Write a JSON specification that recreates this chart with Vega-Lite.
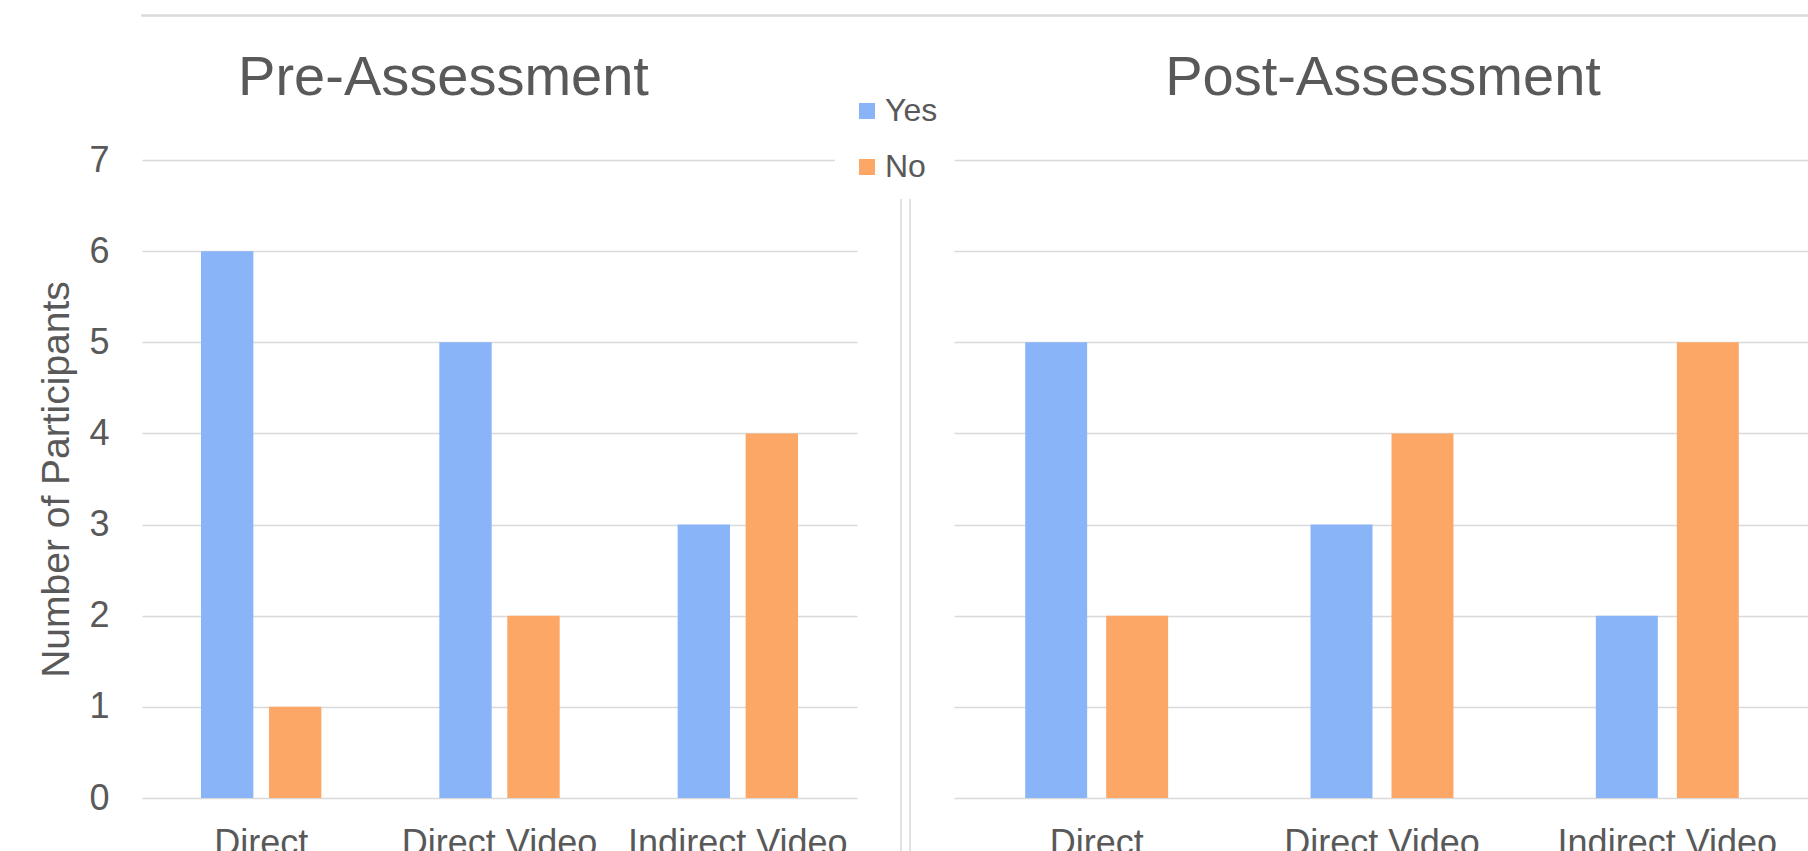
{
  "$schema": "https://vega.github.io/schema/vega-lite/v6.json",
  "background": "white",
  "padding": {"left": 37, "top": 14, "right": 0, "bottom": 0},
  "config": {
    "font": "Liberation Sans",
    "view": {"stroke": null},
    "axis": {
      "labelColor": "#595959",
      "titleColor": "#595959",
      "labelFont": "Liberation Sans",
      "titleFont": "Liberation Sans",
      "domain": false,
      "ticks": false,
      "gridColor": "#d9d9d9",
      "gridWidth": 1.5
    },
    "title": {
      "color": "#595959",
      "fontSize": 56,
      "fontWeight": "normal",
      "font": "Liberation Sans",
      "frame": "group",
      "baseline": "alphabetic"
    }
  },
  "datasets": {
    "survey": [
      {"phase": "Pre-Assessment", "condition": "Direct", "response": "Yes", "participants": 6},
      {"phase": "Pre-Assessment", "condition": "Direct", "response": "No", "participants": 1},
      {"phase": "Pre-Assessment", "condition": "Direct Video", "response": "Yes", "participants": 5},
      {"phase": "Pre-Assessment", "condition": "Direct Video", "response": "No", "participants": 2},
      {"phase": "Pre-Assessment", "condition": "Indirect Video", "response": "Yes", "participants": 3},
      {"phase": "Pre-Assessment", "condition": "Indirect Video", "response": "No", "participants": 4},
      {"phase": "Post-Assessment", "condition": "Direct", "response": "Yes", "participants": 5},
      {"phase": "Post-Assessment", "condition": "Direct", "response": "No", "participants": 2},
      {"phase": "Post-Assessment", "condition": "Direct Video", "response": "Yes", "participants": 3},
      {"phase": "Post-Assessment", "condition": "Direct Video", "response": "No", "participants": 4},
      {"phase": "Post-Assessment", "condition": "Indirect Video", "response": "Yes", "participants": 2},
      {"phase": "Post-Assessment", "condition": "Indirect Video", "response": "No", "participants": 5}
    ]
  },
  "bounds": "flush",
  "spacing": 144,
  "resolve": {"legend": {"color": "independent"}},
  "vconcat": [
    {
      "width": 1680,
      "height": 1,
      "view": {"stroke": "#d9d9d9", "strokeWidth": 1.5},
      "data": {"values": []},
      "mark": {"type": "point", "opacity": 0},
      "encoding": {}
    },
    {
      "bounds": "flush",
      "spacing": 44,
      "resolve": {
        "legend": {"color": "independent"},
        "scale": {"x": "independent", "xOffset": "independent"}
      },
      "hconcat": [
        {
          "width": 715,
          "height": 638,
          "title": {"text": "Pre-Assessment", "dx": -56, "offset": 35},
          "data": {"name": "survey"},
          "transform": [{"filter": "datum.phase === 'Pre-Assessment'"}],
          "mark": {"type": "bar"},
          "encoding": {
            "x": {
              "field": "condition", "type": "nominal",
              "sort": ["Direct", "Direct Video", "Indirect Video"],
              "scale": {"paddingInner": 0.495, "paddingOuter": 0.2475},
              "axis": {"title": null, "labelAngle": 0, "labelFontSize": 36, "labelPadding": 28, "labelLimit": 0, "labelOverlap": false, "grid": false}
            },
            "xOffset": {
              "field": "response", "type": "nominal",
              "sort": ["Yes", "No"],
              "scale": {"paddingInner": 0.23, "paddingOuter": 0}
            },
            "y": {
              "field": "participants", "type": "quantitative",
              "scale": {"domain": [0, 7], "nice": false},
              "axis": {
                "values": [0, 1, 2, 3, 4, 5, 6, 7],
                "title": "Number of Participants",
                "titleFontSize": 39,
                "titleFontWeight": "normal",
                "titlePadding": 12,
                "labelFontSize": 36,
                "labelPadding": 33,
                "grid": true
              }
            },
            "color": {
              "field": "response", "type": "nominal",
              "sort": ["Yes", "No"],
              "scale": {"domain": ["Yes", "No"], "range": ["#8AB4F8", "#FCA766"]},
              "legend": null
            }
          }
        },
        {
          "width": 9,
          "height": 700,
          "view": {"stroke": "#d9d9d9", "strokeWidth": 1.5},
          "data": {"values": []},
          "mark": {"type": "square", "filled": true},
          "encoding": {
            "color": {
              "field": "response", "type": "nominal",
              "sort": ["Yes", "No"],
              "scale": {"domain": ["Yes", "No"], "range": ["#8AB4F8", "#FCA766"]},
              "legend": {
                "orient": "none",
                "legendX": -66,
                "legendY": -81,
                "title": null,
                "symbolType": "square",
                "symbolSize": 256,
                "symbolStrokeWidth": 0,
                "symbolOpacity": 1,
                "labelFontSize": 32,
                "labelColor": "#595959",
                "labelOffset": 2,
                "rowPadding": 24,
                "padding": 16,
                "fillColor": "white"
              }
            }
          }
        },
        {
          "width": 856,
          "height": 638,
          "title": {"text": "Post-Assessment", "dx": 1, "offset": 53},
          "data": {"name": "survey"},
          "transform": [{"filter": "datum.phase === 'Post-Assessment'"}],
          "mark": {"type": "bar"},
          "encoding": {
            "x": {
              "field": "condition", "type": "nominal",
              "sort": ["Direct", "Direct Video", "Indirect Video"],
              "scale": {"paddingInner": 0.499, "paddingOuter": 0.2495},
              "axis": {"title": null, "labelAngle": 0, "labelFontSize": 36, "labelPadding": 28, "labelLimit": 0, "labelOverlap": false, "grid": false}
            },
            "xOffset": {
              "field": "response", "type": "nominal",
              "sort": ["Yes", "No"],
              "scale": {"paddingInner": 0.235, "paddingOuter": 0}
            },
            "y": {
              "field": "participants", "type": "quantitative",
              "scale": {"domain": [0, 7], "nice": false},
              "axis": {"values": [0, 1, 2, 3, 4, 5, 6, 7], "title": null, "labels": false, "grid": true}
            },
            "color": {
              "field": "response", "type": "nominal",
              "sort": ["Yes", "No"],
              "scale": {"domain": ["Yes", "No"], "range": ["#8AB4F8", "#FCA766"]},
              "legend": null
            }
          }
        }
      ]
    }
  ]
}
